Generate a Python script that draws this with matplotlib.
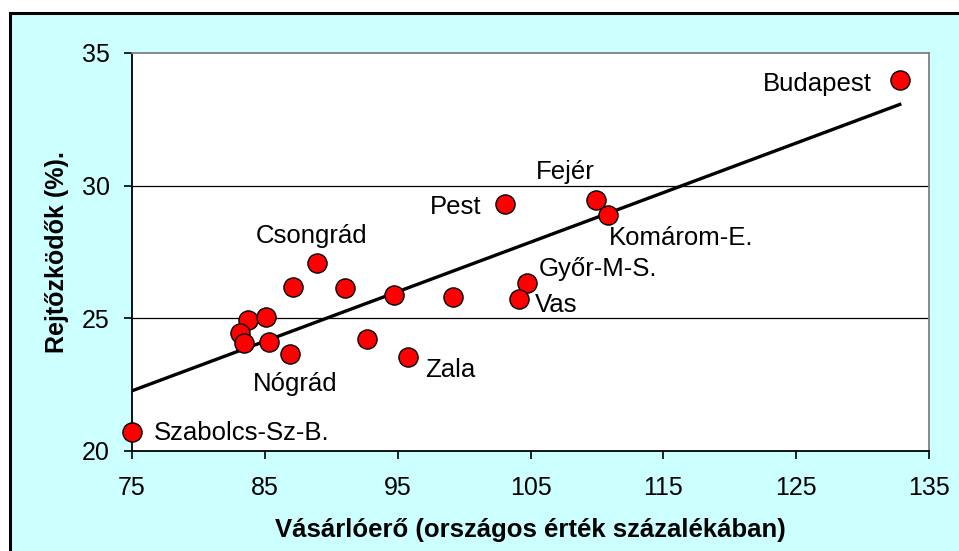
import matplotlib

matplotlib.use("Agg")
import matplotlib.pyplot as plt
import numpy as np
from matplotlib.patches import Rectangle

# purchasing power (% of national value) vs. share of "hiding" group (%)
counties = [
    "Budapest", "Szabolcs-Sz-B.", "Pest", "Fejér", "Komárom-E.", "Győr-M-S.",
    "Vas", "Csongrád", "Nógrád", "Zala", "", "", "", "", "", "", "", "", "", "",
]
purchasing_power = [
    132.8, 75.0, 103.1, 109.9, 110.8, 104.7,
    104.1, 88.9, 86.9, 95.8, 87.1, 91.0, 94.7, 99.2, 92.7,
    83.7, 85.1, 83.1, 83.4, 85.3,
]
hiding_pct = [
    33.98, 20.72, 29.31, 29.46, 28.90, 26.33,
    25.73, 27.09, 23.66, 23.54, 26.18, 26.14, 25.88, 25.80, 24.22,
    24.94, 25.05, 24.45, 24.07, 24.11,
]

x_ticks = [75, 85, 95, 105, 115, 125, 135]
y_ticks = [20, 25, 30, 35]

# label placement: offset in points, horizontal alignment
label_pos = {
    "Budapest": (-20, -3, "right"),
    "Szabolcs-Sz-B.": (16, -1, "left"),
    "Pest": (-17, -2, "right"),
    "Fejér": (-22, 20, "center"),
    "Komárom-E.": (1, -17, "left"),
    "Győr-M-S.": (9, 10, "left"),
    "Vas": (12, -4, "left"),
    "Csongrád": (-4, 19, "center"),
    "Nógrád": (4, -22, "center"),
    "Zala": (12, -9, "left"),
}

plt.rcParams["font.family"] = ["Liberation Sans", "DejaVu Sans"]

fig = plt.figure(figsize=(9.59, 5.51), dpi=100)
fig.patch.set_facecolor("white")
fig.patches.append(
    Rectangle((10 / 959, -0.1), 1.2, 1.1 - 13 / 551, transform=fig.transFigure,
              facecolor="#CCFFFF", edgecolor="black", linewidth=2.2, zorder=-10)
)

ax = fig.add_axes([132 / 959, 100 / 551, 797 / 959, 398 / 551])
ax.set_facecolor("white")

ax.set_xlim(75, 135)
ax.set_ylim(20, 35)
ax.set_xticks(x_ticks)
ax.set_yticks(y_ticks)

for yv in y_ticks[1:3]:
    ax.axhline(yv, color="black", linewidth=0.9, zorder=1)

x = np.array(purchasing_power)
y = np.array(hiding_pct)
slope, intercept = np.polyfit(x, y, 1)
xs = np.array([x.min(), x.max()])
ax.plot(xs, slope * xs + intercept, color="black", linewidth=2.4, zorder=2)

ax.scatter(x, y, s=190, color="#FF0000", edgecolor="black", linewidth=1.0,
           zorder=3, clip_on=False)

for name, xv, yv in zip(counties, purchasing_power, hiding_pct):
    if not name:
        continue
    dx, dy, ha = label_pos[name]
    ax.annotate(name, (xv, yv), xytext=(dx, dy), textcoords="offset points",
                ha=ha, va="center", fontsize=18.5, color="black", zorder=4)

for side in ("left", "bottom"):
    ax.spines[side].set_color("black")
    ax.spines[side].set_linewidth(1.3)
for side in ("top", "right"):
    ax.spines[side].set_color("#808080")
    ax.spines[side].set_linewidth(1.3)

ax.tick_params(axis="both", direction="out", length=6, width=1.2,
               labelsize=18, colors="black")
ax.tick_params(axis="x", pad=12)
ax.tick_params(axis="y", pad=10)

ax.set_xlabel("Vásárlóerő (országos érték százalékában)", fontsize=18.5,
              fontweight="bold", labelpad=13)
ax.set_ylabel("Rejtőzködők (%).", fontsize=18, fontweight="bold", labelpad=9)

fig.savefig("out.png", dpi=100, facecolor=fig.get_facecolor())
plt.close(fig)
